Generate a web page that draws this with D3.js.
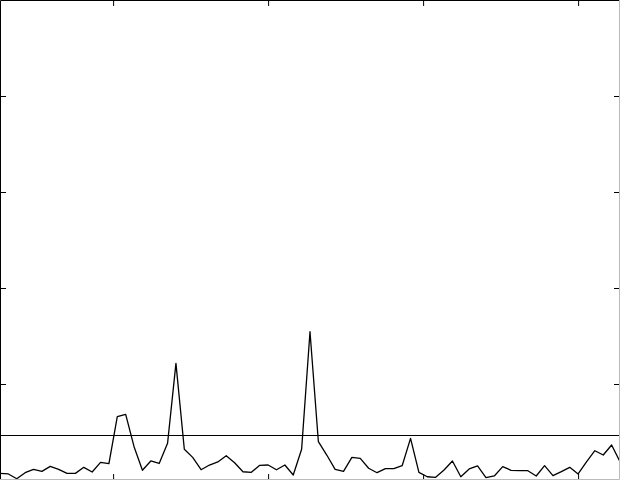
<!DOCTYPE html>
<html><head><meta charset="utf-8">
<script src="https://cdn.jsdelivr.net/npm/d3@7"></script>
<style>body{margin:0;background:#fff}svg{display:block}</style>
</head><body>
<script>
const values = [0.069,0.063,0.013,0.076,0.111,0.090,0.142,0.111,0.069,0.069,
0.132,0.083,0.184,0.170,0.659,0.684,0.347,0.101,0.198,0.172,
0.382,1.215,0.320,0.236,0.107,0.156,0.188,0.253,0.180,0.086,
0.080,0.153,0.156,0.107,0.156,0.052,0.320,1.545,0.399,0.260,
0.111,0.090,0.236,0.226,0.122,0.076,0.118,0.118,0.149,0.434,
0.080,0.034,0.028,0.104,0.198,0.034,0.115,0.146,0.024,0.042,
0.139,0.101,0.097,0.097,0.042,0.149,0.045,0.087,0.132,0.063,
0.188,0.305,0.260,0.365,0.191];
const threshold = [0.4635];
const xTicks = [13.5, 32, 50.5, 69];
const yTicks = [1, 2, 3, 4];

const W = 620, H = 480;
const svg = d3.select("body").append("svg").attr("width", W).attr("height", H);
const x = d3.scaleLinear().domain([0, values.length - 1]).range([0, W]);
const y = d3.scaleLinear().domain([0, 5]).range([H, 0]);

const fmt = () => "";
const axes = [
  [d3.axisTop(x).tickValues(xTicks), `translate(0,1)`],
  [d3.axisBottom(x).tickValues(xTicks), `translate(0,${H-1})`],
  [d3.axisLeft(y).tickValues(yTicks), `translate(1,0)`],
  [d3.axisRight(y).tickValues(yTicks), `translate(${W-1},0)`]
];
axes.forEach(([ax, tr]) => {
  const g = svg.append("g").attr("transform", tr)
    .call(ax.tickSize(-5).tickFormat(fmt));
  g.select(".domain").remove();
  g.selectAll("line").attr("stroke", "#000");
});

svg.append("g").selectAll("line").data(threshold).join("line")
  .attr("x1", 0).attr("x2", W)
  .attr("y1", d => y(d)).attr("y2", d => y(d))
  .attr("stroke", "#000").attr("stroke-width", 1.2);

svg.append("path").datum(values)
  .attr("fill", "none").attr("stroke", "#000").attr("stroke-width", 1.3)
  .attr("stroke-linejoin", "round")
  .attr("d", d3.line().x((d, i) => x(i)).y(d => y(d)));

svg.append("path")
  .attr("d", `M0.5,${H}V0.5H${W}`)
  .attr("fill", "none").attr("stroke", "#000").attr("stroke-width", 1);
svg.append("path")
  .attr("d", `M0,${H-0.5}H${W-0.5}V0`)
  .attr("fill", "none").attr("stroke", "#bbb").attr("stroke-width", 1);
</script>
</body></html>
